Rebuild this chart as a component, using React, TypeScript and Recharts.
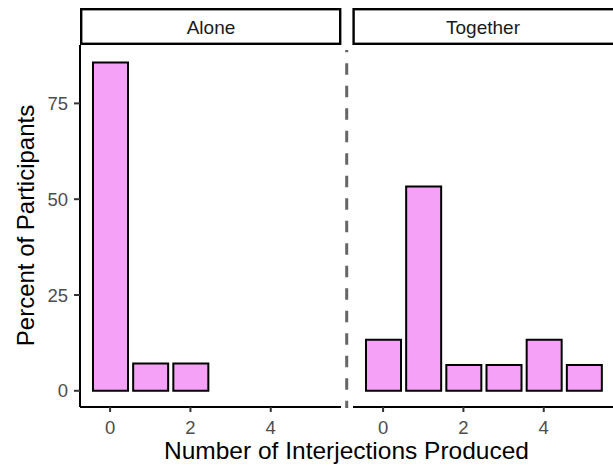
import React from "react";
import { BarChart, Bar, XAxis, YAxis } from "recharts";

// histogram bins (number of interjections) and percent of participants per panel
const bins = ["0", "1", "2", "3", "4", "5"];
const alonePct = [85.7, 7.1, 7.1, null, null, null];
const togetherPct = [13.3, 53.3, 6.7, 6.7, 13.3, 6.7];
const yTicks = [0, 25, 50, 75];
const yDomain = [-4.23, 90.24];
const panelNames = ["Alone", "Together"];
const xTitle = "Number of Interjections Produced";
const yTitle = "Percent of Participants";

const FONT = "'Liberation Sans', Arial, Helvetica, sans-serif";
const BAR_FILL = "#F6A1F8";
const TICK_TEXT = { fill: "#4D4D4D", fontSize: 18.5 };

const aloneData = bins.map((b, i) => ({ bin: b, pct: alonePct[i] }));
const togetherData = bins.map((b, i) => ({ bin: b, pct: togetherPct[i] }));

function Panel({ data, showY, width, padRight }: { data: any[]; showY: boolean; width: number; padRight: number }) {
  return (
    <BarChart
      width={width}
      height={465}
      data={data}
      margin={{ top: 45, right: 0, bottom: 0, left: 0 }}
      barCategoryGap={0}
    >
      <XAxis
        dataKey="bin"
        padding={{ left: 10, right: padRight }}
        interval={1}
        height={58}
        tickSize={5}
        tickMargin={9}
        tick={TICK_TEXT}
        tickLine={{ stroke: "#333", strokeWidth: 2 }}
        axisLine={{ stroke: "#000", strokeWidth: 2 }}
      />
      <YAxis
        type="number"
        domain={yDomain}
        allowDataOverflow
        ticks={yTicks}
        hide={!showY}
        width={showY ? 80 : 0}
        tickSize={6}
        tickMargin={6}
        tick={TICK_TEXT}
        tickLine={{ stroke: "#333", strokeWidth: 2 }}
        axisLine={{ stroke: "#000", strokeWidth: 2 }}
      />
      <Bar dataKey="pct" fill={BAR_FILL} stroke="#000" strokeWidth={2} barSize={35} isAnimationActive={false} />
    </BarChart>
  );
}

export default function App() {
  return (
    <div
      style={{
        position: "absolute",
        left: 0,
        top: 0,
        width: 613,
        height: 465,
        background: "#fff",
        fontFamily: FONT,
        overflow: "hidden",
      }}
    >
      <div style={{ position: "absolute", left: 0, top: 0 }}>
        <Panel data={aloneData} showY width={341} padRight={10} />
      </div>
      <div style={{ position: "absolute", left: 353, top: 0 }}>
        <Panel data={togetherData} showY={false} width={260} padRight={9} />
      </div>

      <svg
        width={613}
        height={465}
        style={{ position: "absolute", left: 0, top: 0, pointerEvents: "none", fontFamily: FONT }}
      >
        {/* facet strips */}
        <rect x={81.2} y={9.2} width={259} height={34.6} fill="#fff" stroke="#000" strokeWidth={2.4} />
        <text x={211} y={34} textAnchor="middle" fontSize={19} fill="#1A1A1A">
          {panelNames[0]}
        </text>
        <rect x={353.6} y={9.2} width={264} height={34.6} fill="#fff" stroke="#000" strokeWidth={2.4} />
        <text x={483} y={34} textAnchor="middle" fontSize={19} fill="#1A1A1A">
          {panelNames[1]}
        </text>

        {/* divider between conditions */}
        <line
          x1={346.7}
          x2={346.7}
          y1={50}
          y2={408}
          stroke="#666"
          strokeWidth={3}
          strokeDasharray="11.5 11"
          strokeDashoffset={9.2}
        />

        {/* axis titles */}
        <text x={346.5} y={459.3} textAnchor="middle" fontSize={24.5} fill="#000">
          {xTitle}
        </text>
        <text
          x={0}
          y={0}
          transform="translate(33.5 225.5) rotate(-90)"
          textAnchor="middle"
          fontSize={24}
          fill="#000"
        >
          {yTitle}
        </text>
      </svg>
    </div>
  );
}
